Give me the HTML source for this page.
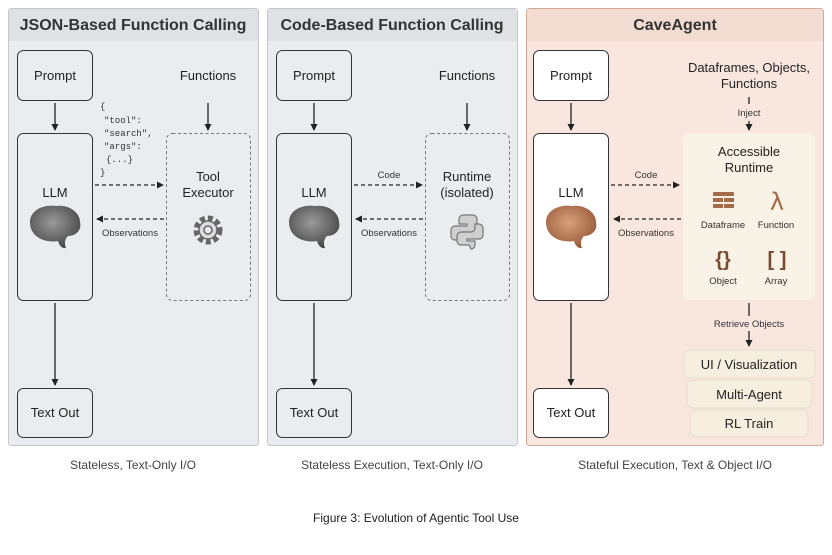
<!DOCTYPE html>
<html><head><meta charset="utf-8"><style>
body{margin:0;background:#fff;}
svg{display:block;font-family:"Liberation Sans",sans-serif;}
</style></head><body>
<svg width="832" height="555" viewBox="0 0 832 555">
<defs>
<marker id="ah" markerWidth="8" markerHeight="8" refX="6" refY="4" orient="auto" markerUnits="userSpaceOnUse"><path d="M0,0.5 L7,4 L0,7.5 z" fill="#222"/></marker>
<radialGradient id="bg1" cx="0.45" cy="0.4" r="0.6"><stop offset="0" stop-color="#9a9a9a"/><stop offset="1" stop-color="#4a4a4a"/></radialGradient>
<radialGradient id="bg2" cx="0.45" cy="0.4" r="0.6"><stop offset="0" stop-color="#d9a07c"/><stop offset="1" stop-color="#9a5c3c"/></radialGradient>
</defs>

<!-- Panel 1 -->
<rect x="8.5" y="8.5" width="250" height="437" rx="3" fill="#ebecef" stroke="#c5c6c9"/>
<path d="M9,41 V11 a2,2 0 0 1 2,-2 H256 a2,2 0 0 1 2,2 V41 z" fill="#dfe1e4"/>
<text x="133" y="30" font-size="16" font-weight="bold" text-anchor="middle" fill="#333">JSON-Based Function Calling</text>
<!-- Panel 2 -->
<rect x="267.5" y="8.5" width="250" height="437" rx="3" fill="#ebecef" stroke="#c5c6c9"/>
<path d="M268,41 V11 a2,2 0 0 1 2,-2 H515 a2,2 0 0 1 2,2 V41 z" fill="#dfe1e4"/>
<text x="392" y="30" font-size="16" font-weight="bold" text-anchor="middle" fill="#333">Code-Based Function Calling</text>
<!-- Panel 3 -->
<rect x="526.5" y="8.5" width="297" height="437" rx="3" fill="#f9e7df" stroke="#cfa898"/>
<path d="M527,41 V11 a2,2 0 0 1 2,-2 H821 a2,2 0 0 1 2,2 V41 z" fill="#f2dcd1"/>
<text x="675" y="30" font-size="16" font-weight="bold" text-anchor="middle" fill="#333">CaveAgent</text>

<g font-size="13" fill="#222" text-anchor="middle">
<!-- P1 boxes -->
<rect x="17.5" y="50.5" width="75" height="50" rx="6" fill="#ebecef" stroke="#333"/>
<text x="55" y="80">Prompt</text>
<rect x="17.5" y="133.5" width="75" height="167" rx="6" fill="#ebecef" stroke="#333"/>
<text x="55" y="197">LLM</text>
<rect x="17.5" y="388.5" width="75" height="49" rx="6" fill="#ebecef" stroke="#333"/>
<text x="55" y="417">Text Out</text>
<text x="208" y="80">Functions</text>
<rect x="166.5" y="133.5" width="84" height="167" rx="6" fill="none" stroke="#777" stroke-dasharray="3,2.5"/>
<text x="208" y="181">Tool</text><text x="208" y="197">Executor</text>

<!-- P2 boxes -->
<rect x="276.5" y="50.5" width="75" height="50" rx="6" fill="#ebecef" stroke="#333"/>
<text x="314" y="80">Prompt</text>
<rect x="276.5" y="133.5" width="75" height="167" rx="6" fill="#ebecef" stroke="#333"/>
<text x="314" y="197">LLM</text>
<rect x="276.5" y="388.5" width="75" height="49" rx="6" fill="#ebecef" stroke="#333"/>
<text x="314" y="417">Text Out</text>
<text x="467" y="80">Functions</text>
<rect x="425.5" y="133.5" width="84" height="167" rx="6" fill="none" stroke="#777" stroke-dasharray="3,2.5"/>
<text x="467" y="181">Runtime</text><text x="467" y="197">(isolated)</text>

<!-- P3 boxes -->
<rect x="533.5" y="50.5" width="75" height="50" rx="6" fill="#fff" stroke="#333"/>
<text x="571" y="80">Prompt</text>
<rect x="533.5" y="133.5" width="75" height="167" rx="6" fill="#fff" stroke="#333"/>
<text x="571" y="197">LLM</text>
<rect x="533.5" y="388.5" width="75" height="49" rx="6" fill="#fff" stroke="#333"/>
<text x="571" y="417">Text Out</text>
<text x="749" y="72">Dataframes, Objects,</text>
<text x="749" y="88">Functions</text>
<rect x="683" y="133" width="132" height="167" rx="6" fill="#f9f2e6"/>
<text x="749" y="156">Accessible</text><text x="749" y="172">Runtime</text>
<rect x="684" y="350" width="131" height="28" rx="6" fill="#f6eedf" stroke="#e6dccb"/>
<text x="749" y="369">UI / Visualization</text>
<rect x="687" y="380" width="125" height="28" rx="6" fill="#f6eedf" stroke="#e6dccb"/>
<text x="749" y="399">Multi-Agent</text>
<rect x="690" y="410" width="118" height="27" rx="6" fill="#f6eedf" stroke="#e6dccb"/>
<text x="749" y="428">RL Train</text>
</g>

<!-- arrows -->
<g stroke="#222" stroke-width="1.3" fill="none">
<line x1="55" y1="103" x2="55" y2="130" marker-end="url(#ah)"/>
<line x1="55" y1="303" x2="55" y2="385" marker-end="url(#ah)"/>
<line x1="208" y1="103" x2="208" y2="130" marker-end="url(#ah)"/>
<line x1="314" y1="103" x2="314" y2="130" marker-end="url(#ah)"/>
<line x1="314" y1="303" x2="314" y2="385" marker-end="url(#ah)"/>
<line x1="467" y1="103" x2="467" y2="130" marker-end="url(#ah)"/>
<line x1="571" y1="103" x2="571" y2="130" marker-end="url(#ah)"/>
<line x1="571" y1="303" x2="571" y2="385" marker-end="url(#ah)"/>
<line x1="749" y1="97" x2="749" y2="104"/>
<line x1="749" y1="121" x2="749" y2="130" marker-end="url(#ah)"/>
<line x1="749" y1="303" x2="749" y2="316"/>
<line x1="749" y1="331" x2="749" y2="346" marker-end="url(#ah)"/>
<g stroke-dasharray="4,3">
<line x1="95" y1="185" x2="163" y2="185" marker-end="url(#ah)"/>
<line x1="164" y1="219" x2="97" y2="219" marker-end="url(#ah)"/>
<line x1="354" y1="185" x2="422" y2="185" marker-end="url(#ah)"/>
<line x1="423" y1="219" x2="356" y2="219" marker-end="url(#ah)"/>
<line x1="611" y1="185" x2="679" y2="185" marker-end="url(#ah)"/>
<line x1="681" y1="219" x2="614" y2="219" marker-end="url(#ah)"/>
</g>
</g>

<g font-size="9.5" fill="#333" text-anchor="middle">
<text x="130" y="236">Observations</text>
<text x="389" y="178">Code</text>
<text x="389" y="236">Observations</text>
<text x="646" y="178">Code</text>
<text x="646" y="236">Observations</text>
<text x="749" y="116">Inject</text>
<text x="749" y="327">Retrieve Objects</text>
<text x="723" y="228">Dataframe</text>
<text x="776" y="228">Function</text>
<text x="723" y="284">Object</text>
<text x="776" y="284">Array</text>
</g>

<g font-family="Liberation Mono,monospace" font-size="9" fill="#333">
<text x="100" y="109">{</text>
<text x="104" y="123">"tool":</text>
<text x="104" y="136">"search",</text>
<text x="104" y="149">"args":</text>
<text x="106" y="162">{...}</text>
<text x="100" y="175">}</text>
</g>

<!-- brains -->
<g>
<path d="M30,222 c0,-12 14,-18 26,-16 c12,-2 24,6 24,16 c2,8 -4,14 -12,14 c-3,3 -4,7 -2,12 c-4,1 -7,-3 -8,-7 c-10,2 -28,-2 -28,-19z" fill="url(#bg1)"/>
<path d="M289,222 c0,-12 14,-18 26,-16 c12,-2 24,6 24,16 c2,8 -4,14 -12,14 c-3,3 -4,7 -2,12 c-4,1 -7,-3 -8,-7 c-10,2 -28,-2 -28,-19z" fill="url(#bg1)"/>
<path d="M546,222 c0,-12 14,-18 26,-16 c12,-2 24,6 24,16 c2,8 -4,14 -12,14 c-3,3 -4,7 -2,12 c-4,1 -7,-3 -8,-7 c-10,2 -28,-2 -28,-19z" fill="url(#bg2)"/>
</g>
<!-- gear -->
<g transform="translate(208,230)" fill="#ddd" stroke="#666" stroke-width="1.5">
<circle r="12" stroke-dasharray="5,3" stroke-width="5" fill="none"/>
<circle r="9"/>
<circle r="4" fill="#ebecef"/>
</g>
<!-- python -->
<g transform="translate(467,230)" fill="#cfcfcf" stroke="#777" stroke-width="1.2">
<path d="M-2,-15 h8 a4,4 0 0 1 4,4 v9 a4,4 0 0 1 -4,4 h-10 a4,4 0 0 0 -4,4 v4 h-4 a4,4 0 0 1 -4,-4 v-6 a4,4 0 0 1 4,-4 h12 v-2 h-8 v-5 a4,4 0 0 1 4,-4z"/>
<path d="M2,15 h-8 a4,4 0 0 1 -4,-4 v-5 a4,4 0 0 1 4,-4 h10 a4,4 0 0 0 4,-4 v-4 h4 a4,4 0 0 1 4,4 v7 a4,4 0 0 1 -4,4 h-12 v2 h8 v4 a4,4 0 0 1 -4,4z"/>
</g>
<!-- runtime icons -->
<g fill="#a56a48">
<rect x="713" y="192" width="21" height="4" rx="1"/>
<rect x="713" y="198" width="10" height="4"/><rect x="724" y="198" width="10" height="4"/>
<rect x="713" y="204" width="10" height="4"/><rect x="724" y="204" width="10" height="4"/>
</g>
<text x="777" y="210" font-size="24" fill="#a56a48" text-anchor="middle" font-family="DejaVu Sans,sans-serif">λ</text>
<text x="723" y="266" font-size="20" fill="#7a4a30" text-anchor="middle" font-weight="bold">{}</text>
<text x="777" y="266" font-size="20" fill="#7a4a30" text-anchor="middle" font-weight="bold">[ ]</text>

<g font-size="12" fill="#444" text-anchor="middle">
<text x="133" y="469">Stateless, Text-Only I/O</text>
<text x="392" y="469">Stateless Execution, Text-Only I/O</text>
<text x="675" y="469">Stateful Execution, Text &amp; Object I/O</text>
<text x="416" y="522" fill="#222">Figure 3: Evolution of Agentic Tool Use</text>
</g>
</svg>
</body></html>
